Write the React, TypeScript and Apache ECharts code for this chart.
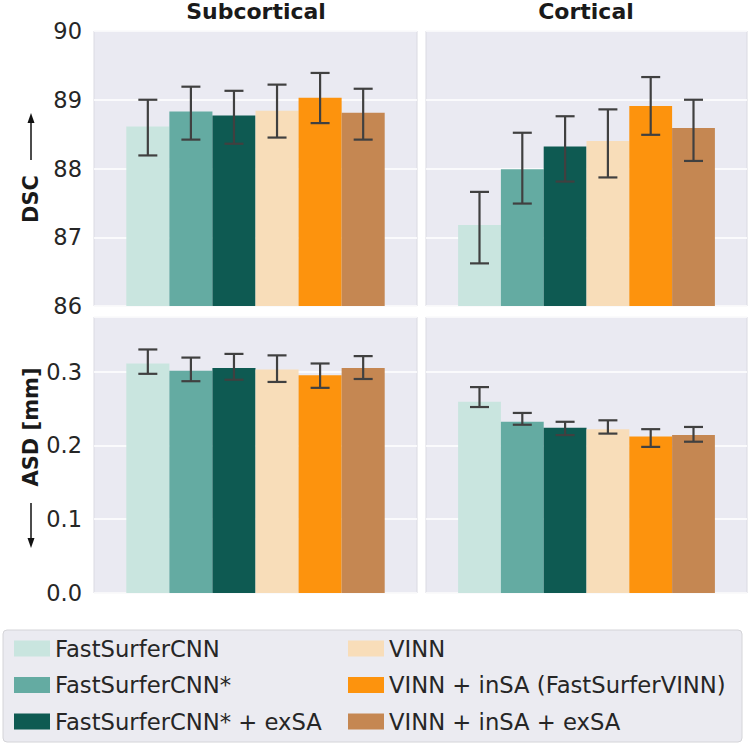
import React, { useEffect, useRef } from 'react';
import * as echarts from 'echarts';

const methods = [
  'FastSurferCNN',
  'FastSurferCNN*',
  'FastSurferCNN* + exSA',
  'VINN',
  'VINN + inSA (FastSurferVINN)',
  'VINN + inSA + exSA',
];
const colors = ['#c9e5df', '#64aba2', '#0e5a52', '#f8ddb9', '#fd930d', '#c58752'];

const columnTitles = ['Subcortical', 'Cortical'];

const dscSubMean = [88.61, 88.83, 88.77, 88.84, 89.03, 88.81];
const dscSubLow = [88.19, 88.42, 88.36, 88.45, 88.66, 88.42];
const dscSubHigh = [89.0, 89.19, 89.13, 89.22, 89.39, 89.16];

const dscCortMean = [87.18, 87.99, 88.32, 88.4, 88.91, 88.59];
const dscCortLow = [86.62, 87.49, 87.81, 87.87, 88.49, 88.11];
const dscCortHigh = [87.66, 88.52, 88.76, 88.86, 89.33, 89.0];

const asdSubMean = [0.311, 0.301, 0.305, 0.303, 0.295, 0.305];
const asdSubLow = [0.297, 0.287, 0.289, 0.286, 0.278, 0.29];
const asdSubHigh = [0.33, 0.319, 0.324, 0.322, 0.311, 0.321];

const asdCortMean = [0.259, 0.232, 0.224, 0.222, 0.212, 0.214];
const asdCortLow = [0.252, 0.228, 0.214, 0.216, 0.198, 0.205];
const asdCortHigh = [0.279, 0.244, 0.232, 0.234, 0.222, 0.225];

const panels = [
  { mean: dscSubMean, low: dscSubLow, high: dscSubHigh },
  { mean: dscCortMean, low: dscCortLow, high: dscCortHigh },
  { mean: asdSubMean, low: asdSubLow, high: asdSubHigh },
  { mean: asdCortMean, low: asdCortLow, high: asdCortHigh },
];

export default function App() {
  const ref = useRef<HTMLDivElement>(null);
  useEffect(() => {
    const chart = echarts.init(ref.current!, null, { renderer: 'svg' });
    const font = 'DejaVu Sans';
    const gridsPos = [
      { left: 94, top: 31, width: 323, height: 275 },
      { left: 426, top: 31, width: 321, height: 275 },
      { left: 94, top: 317, width: 323, height: 276 },
      { left: 426, top: 317, width: 321, height: 276 },
    ];
    const grid = gridsPos.map((g) => ({
      ...g,
      show: true,
      backgroundColor: '#eaeaf2',
      borderColor: '#dadae2',
      borderWidth: 1,
    }));
    const xAxis = gridsPos.map((_, i) => ({
      type: 'category',
      gridIndex: i,
      data: ['all'],
      axisLine: { show: false },
      axisTick: { show: false },
      axisLabel: { show: false },
      splitLine: { show: false },
    }));
    const yAxis = gridsPos.map((_, i) => {
      const dsc = i < 2;
      return {
        type: 'value',
        gridIndex: i,
        min: dsc ? 86 : 0,
        max: dsc ? 90 : 0.374,
        interval: dsc ? 1 : 0.1,
        axisLine: { show: false },
        axisTick: { show: false },
        axisLabel: {
          show: i % 2 === 0,
          showMaxLabel: dsc,
          fontSize: 22.5,
          fontFamily: font,
          color: '#262626',
          margin: 12,
          formatter: (v: number) => (dsc ? String(Math.round(v)) : v.toFixed(1)),
        },
        splitLine: { show: true, lineStyle: { color: '#ffffff', width: 1.6 } },
      };
    });

    const series: any[] = [];
    panels.forEach((p, gi) => {
      methods.forEach((m, mi) => {
        series.push({
          type: 'bar',
          name: m,
          xAxisIndex: gi,
          yAxisIndex: gi,
          data: [p.mean[mi]],
          barGap: '0%',
          barCategoryGap: '20%',
          itemStyle: { color: colors[mi] },
          silent: true,
        });
      });
      series.push({
        type: 'custom',
        xAxisIndex: gi,
        yAxisIndex: gi,
        z: 5,
        silent: true,
        data: methods.map((_, mi) => [0, p.low[mi], p.high[mi], mi]),
        renderItem: (params: any, api: any) => {
          const idx = api.value(3);
          const lo = api.coord([0, api.value(1)]);
          const hi = api.coord([0, api.value(2)]);
          const band = api.size([1, 0])[0];
          const bw = (band * 0.8) / 6;
          const cx = lo[0] + (idx - 2.5) * bw;
          const hw = 9.5;
          const style = { stroke: '#404040', lineWidth: 2.2 };
          return {
            type: 'group',
            children: [
              { type: 'line', shape: { x1: cx, y1: lo[1], x2: cx, y2: hi[1] }, style },
              { type: 'line', shape: { x1: cx - hw, y1: lo[1], x2: cx + hw, y2: lo[1] }, style },
              { type: 'line', shape: { x1: cx - hw, y1: hi[1], x2: cx + hw, y2: hi[1] }, style },
            ],
          };
        },
      });
    });

    const legendCommon = {
      orient: 'vertical',
      top: 637,
      itemWidth: 36,
      itemHeight: 16,
      itemGap: 13.5,
      padding: 0,
      icon: 'rect',
      selectedMode: false,
      textStyle: { fontSize: 22.7, fontFamily: font, color: '#262626' },
    };

    const titleFont = `bold 22px "${font}"`;
    const labelFont = `bold 21px "${font}"`;

    chart.setOption({
      animation: false,
      grid,
      xAxis,
      yAxis,
      series,
      legend: [
        { ...legendCommon, left: 14, data: methods.slice(0, 3) },
        { ...legendCommon, left: 348, data: methods.slice(3) },
      ],
      graphic: [
        {
          type: 'rect',
          z: -1,
          shape: { x: 3, y: 630, width: 739, height: 112, r: 4 },
          style: { fill: '#ebebf1', stroke: '#d4d4d8', lineWidth: 1 },
        },
        {
          type: 'text',
          x: 256,
          y: 11,
          style: { text: columnTitles[0], font: titleFont, fill: '#1a1a1a', align: 'center', verticalAlign: 'middle' },
        },
        {
          type: 'text',
          x: 586,
          y: 11,
          style: { text: columnTitles[1], font: titleFont, fill: '#1a1a1a', align: 'center', verticalAlign: 'middle' },
        },
        {
          type: 'text',
          x: 31,
          y: 199,
          rotation: Math.PI / 2,
          style: { text: 'DSC', font: labelFont, fill: '#1a1a1a', align: 'center', verticalAlign: 'middle' },
        },
        { type: 'line', shape: { x1: 31, y1: 160, x2: 31, y2: 121 }, style: { stroke: '#111', lineWidth: 1.5 } },
        {
          type: 'polygon',
          shape: { points: [[31, 113], [27.5, 123], [34.5, 123]] },
          style: { fill: '#111' },
        },
        {
          type: 'text',
          x: 31,
          y: 427,
          rotation: Math.PI / 2,
          style: { text: 'ASD [mm]', font: labelFont, fill: '#1a1a1a', align: 'center', verticalAlign: 'middle' },
        },
        { type: 'line', shape: { x1: 31, y1: 503, x2: 31, y2: 540 }, style: { stroke: '#111', lineWidth: 1.5 } },
        {
          type: 'polygon',
          shape: { points: [[31, 548], [27.5, 538], [34.5, 538]] },
          style: { fill: '#111' },
        },
      ],
    });
    return () => chart.dispose();
  }, []);
  return <div ref={ref} style={{ position: 'absolute', left: 0, top: 0, width: 750, height: 746 }} />;
}
